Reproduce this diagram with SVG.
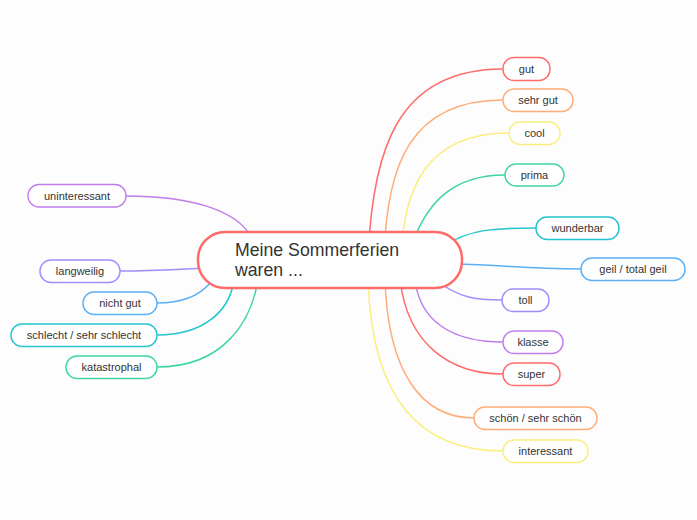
<svg xmlns="http://www.w3.org/2000/svg" width="697" height="520" viewBox="0 0 697 520">
<style>
text{font-family:"Liberation Sans",Arial,sans-serif;fill:#333;}
.lbl{font-size:11px;text-anchor:middle;}
.main{font-size:17.7px;}
.n{fill:#fff;stroke-width:1.4;}
.c{fill:none;stroke-width:1.5;}
.red{stroke:#FF6B6B}.org{stroke:#FFAC78}.yel{stroke:#FAEE7E}.grn{stroke:#3FD6A2}
.cya{stroke:#22C5CF}.blu{stroke:#5BB0F5}.vio{stroke:#9F8DFC}.pur{stroke:#C07DEC}
</style>
<rect width="697" height="520" fill="#fdfdfd"/>
<g id="connectors">
<path class="c red" d="M368,260 C372,150 397,69 503,69"/>
<path class="c org" d="M384,260 C386,165 410,100 503,100"/>
<path class="c yel" d="M401,260 C403,190 425,133 509,133"/>
<path class="c grn" d="M410,250 C425,205 450,175 505,175"/>
<path class="c cya" d="M445,245 C470,230 490,228 536,228"/>
<path class="c blu" d="M450,264 C510,265 520,269 581,269"/>
<path class="c vio" d="M435,280 C460,298 475,300 502,300"/>
<path class="c pur" d="M415,280 C420,320 450,342 503,342"/>
<path class="c red" d="M400,280 C408,345 450,374 503,374"/>
<path class="c org" d="M385,280 C388,370 420,418 474,418"/>
<path class="c yel" d="M368,280 C372,400 420,451 503,451"/>
<path class="c pur" d="M126,196 C190,196 235,210 250,235"/>
<path class="c vio" d="M120,271 C160,271 180,269 210,268"/>
<path class="c blu" d="M157,303 C185,303 200,295 210,283"/>
<path class="c cya" d="M157,335 C205,335 228,310 233,285"/>
<path class="c grn" d="M157,367 C225,367 250,320 257,285"/>
</g>
<g id="central">
<rect x="198" y="232" width="264" height="56" rx="27" fill="#fff" stroke="#FF6B6B" stroke-width="2.5"/>
<text class="main" x="235" y="256">Meine Sommerferien</text>
<text class="main" x="235" y="276">waren ...</text>
</g>
<g id="n-gut"><rect class="n red" x="503" y="57.5" width="47" height="23" rx="11"/><text class="lbl" x="526.5" y="73">gut</text></g>
<g id="n-sehrgut"><rect class="n org" x="503" y="89" width="70" height="22.5" rx="11"/><text class="lbl" x="538" y="104">sehr gut</text></g>
<g id="n-cool"><rect class="n yel" x="509" y="122" width="51" height="22.5" rx="11"/><text class="lbl" x="534.5" y="137">cool</text></g>
<g id="n-prima"><rect class="n grn" x="505" y="164" width="59" height="22" rx="11"/><text class="lbl" x="534.5" y="179">prima</text></g>
<g id="n-wunderbar"><rect class="n cya" x="536" y="217" width="83" height="22.5" rx="11"/><text class="lbl" x="577.5" y="232">wunderbar</text></g>
<g id="n-geil"><rect class="n blu" x="581" y="258" width="104" height="22.5" rx="11"/><text class="lbl" x="633" y="273">geil / total geil</text></g>
<g id="n-toll"><rect class="n vio" x="502" y="289" width="47" height="22.5" rx="11"/><text class="lbl" x="525.5" y="304">toll</text></g>
<g id="n-klasse"><rect class="n pur" x="503" y="331" width="60" height="22.5" rx="11"/><text class="lbl" x="533" y="346">klasse</text></g>
<g id="n-super"><rect class="n red" x="503" y="363" width="57" height="22.5" rx="11"/><text class="lbl" x="531.5" y="378">super</text></g>
<g id="n-schoen"><rect class="n org" x="474" y="407" width="123" height="22.5" rx="11"/><text class="lbl" x="535.5" y="422">schön / sehr schön</text></g>
<g id="n-interessant"><rect class="n yel" x="503" y="440" width="85" height="22.5" rx="11"/><text class="lbl" x="545.5" y="455">interessant</text></g>
<g id="n-uninteressant"><rect class="n pur" x="28" y="184.5" width="98" height="22.5" rx="11"/><text class="lbl" x="77" y="200">uninteressant</text></g>
<g id="n-langweilig"><rect class="n vio" x="40" y="260" width="80" height="22.5" rx="11"/><text class="lbl" x="80" y="275">langweilig</text></g>
<g id="n-nichtgut"><rect class="n blu" x="83" y="292" width="74" height="22.5" rx="11"/><text class="lbl" x="120" y="307">nicht gut</text></g>
<g id="n-schlecht"><rect class="n cya" x="11" y="324" width="146" height="22.5" rx="11"/><text class="lbl" x="84" y="339">schlecht / sehr schlecht</text></g>
<g id="n-katastrophal"><rect class="n grn" x="66" y="356" width="91" height="22.5" rx="11"/><text class="lbl" x="111.5" y="371">katastrophal</text></g>
</svg>
